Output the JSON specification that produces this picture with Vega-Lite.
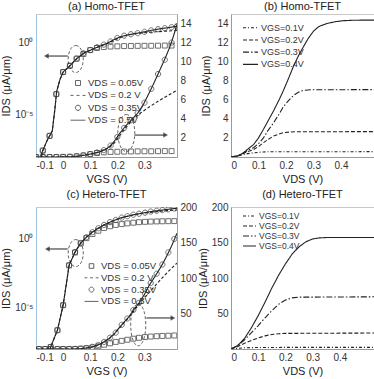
{
"$schema": "https://vega.github.io/schema/vega-lite/v6.json",
"padding": {"left": 0, "top": 0, "right": 0, "bottom": 0},
"config": {
  "font": "Liberation Sans",
  "view": {"stroke": "#c8c8c8", "strokeWidth": 1},
  "axis": {"labelFont": "Liberation Sans", "labelFontSize": 10, "labelColor": "#333", "titleFont": "Liberation Sans", "titleFontSize": 11, "titleColor": "#222", "titleFontWeight": "normal", "grid": false, "ticks": false, "domainColor": "#999", "labelPadding": 3, "titlePadding": 3},
  "title": {"font": "Liberation Sans", "fontSize": 11, "fontWeight": "normal", "color": "#222", "offset": 2},
  "legend": {"labelFont": "Liberation Sans", "labelColor": "#333", "padding": 0}
},
"datasets": {
  "a": [
    {"x": -0.1, "v": 1e-10, "s": "VDS = 0.5V", "m": "L"},
    {"x": -0.08, "v": 1e-8, "s": "VDS = 0.5V", "m": "L"},
    {"x": -0.077, "v": 2.3e-8, "s": "VDS = 0.5V", "m": "L"},
    {"x": -0.06, "v": 1.3e-7, "s": "VDS = 0.5V", "m": "L"},
    {"x": -0.04, "v": 6.6e-7, "s": "VDS = 0.5V", "m": "L"},
    {"x": -0.03, "v": 2.5e-5, "s": "VDS = 0.5V", "m": "L"},
    {"x": -0.024, "v": 3.7e-4, "s": "VDS = 0.5V", "m": "L"},
    {"x": -0.012, "v": 2.5e-3, "s": "VDS = 0.5V", "m": "L"},
    {"x": 0, "v": 8.7e-3, "s": "VDS = 0.5V", "m": "L"},
    {"x": 0.027, "v": 0.026, "s": "VDS = 0.5V", "m": "L"},
    {"x": 0.051, "v": 0.079, "s": "VDS = 0.5V", "m": "L"},
    {"x": 0.08, "v": 0.2, "s": "VDS = 0.5V", "m": "L"},
    {"x": 0.11, "v": 0.35, "s": "VDS = 0.5V", "m": "L"},
    {"x": 0.134, "v": 0.55, "s": "VDS = 0.5V", "m": "L"},
    {"x": 0.15, "v": 0.72, "s": "VDS = 0.5V", "m": "L"},
    {"x": 0.171, "v": 1.08, "s": "VDS = 0.5V", "m": "L"},
    {"x": 0.19, "v": 1.7, "s": "VDS = 0.5V", "m": "L"},
    {"x": 0.208, "v": 2.45, "s": "VDS = 0.5V", "m": "L"},
    {"x": 0.232, "v": 3.3, "s": "VDS = 0.5V", "m": "L"},
    {"x": 0.256, "v": 4.0, "s": "VDS = 0.5V", "m": "L"},
    {"x": 0.275, "v": 4.6, "s": "VDS = 0.5V", "m": "L"},
    {"x": 0.293, "v": 5.35, "s": "VDS = 0.5V", "m": "L"},
    {"x": 0.31, "v": 6.3, "s": "VDS = 0.5V", "m": "L"},
    {"x": 0.33, "v": 7.45, "s": "VDS = 0.5V", "m": "L"},
    {"x": 0.35, "v": 8.7, "s": "VDS = 0.5V", "m": "L"},
    {"x": 0.366, "v": 9.7, "s": "VDS = 0.5V", "m": "L"},
    {"x": 0.38, "v": 10.6, "s": "VDS = 0.5V", "m": "L"},
    {"x": 0.393, "v": 11.5, "s": "VDS = 0.5V", "m": "L"},
    {"x": 0.405, "v": 12.5, "s": "VDS = 0.5V", "m": "L"},
    {"x": 0.42, "v": 13.9, "s": "VDS = 0.5V", "m": "L"},
    {"x": -0.1, "v": 1e-10, "s": "VDS = 0.2 V", "m": "L"},
    {"x": -0.08, "v": 1e-8, "s": "VDS = 0.2 V", "m": "L"},
    {"x": -0.077, "v": 2.3e-8, "s": "VDS = 0.2 V", "m": "L"},
    {"x": -0.06, "v": 1.3e-7, "s": "VDS = 0.2 V", "m": "L"},
    {"x": -0.04, "v": 6.6e-7, "s": "VDS = 0.2 V", "m": "L"},
    {"x": -0.03, "v": 2.5e-5, "s": "VDS = 0.2 V", "m": "L"},
    {"x": -0.024, "v": 3.7e-4, "s": "VDS = 0.2 V", "m": "L"},
    {"x": -0.012, "v": 2.5e-3, "s": "VDS = 0.2 V", "m": "L"},
    {"x": 0, "v": 8.7e-3, "s": "VDS = 0.2 V", "m": "L"},
    {"x": 0.027, "v": 0.026, "s": "VDS = 0.2 V", "m": "L"},
    {"x": 0.051, "v": 0.079, "s": "VDS = 0.2 V", "m": "L"},
    {"x": 0.08, "v": 0.2, "s": "VDS = 0.2 V", "m": "L"},
    {"x": 0.11, "v": 0.35, "s": "VDS = 0.2 V", "m": "L"},
    {"x": 0.134, "v": 0.54, "s": "VDS = 0.2 V", "m": "L"},
    {"x": 0.15, "v": 0.7, "s": "VDS = 0.2 V", "m": "L"},
    {"x": 0.171, "v": 1.0, "s": "VDS = 0.2 V", "m": "L"},
    {"x": 0.19, "v": 1.5, "s": "VDS = 0.2 V", "m": "L"},
    {"x": 0.208, "v": 2.2, "s": "VDS = 0.2 V", "m": "L"},
    {"x": 0.232, "v": 3.1, "s": "VDS = 0.2 V", "m": "L"},
    {"x": 0.25, "v": 3.7, "s": "VDS = 0.2 V", "m": "L"},
    {"x": 0.28, "v": 4.5, "s": "VDS = 0.2 V", "m": "L"},
    {"x": 0.31, "v": 5.1, "s": "VDS = 0.2 V", "m": "L"},
    {"x": 0.342, "v": 5.7, "s": "VDS = 0.2 V", "m": "L"},
    {"x": 0.38, "v": 6.35, "s": "VDS = 0.2 V", "m": "L"},
    {"x": 0.42, "v": 7.0, "s": "VDS = 0.2 V", "m": "L"},
    {"x": -0.1, "v": 1e-11, "s": "VDS = 0.05V", "m": "P"},
    {"x": -0.075, "v": 2.8e-8, "s": "VDS = 0.05V", "m": "P"},
    {"x": -0.05, "v": 3e-7, "s": "VDS = 0.05V", "m": "P"},
    {"x": -0.025, "v": 2.5e-4, "s": "VDS = 0.05V", "m": "P"},
    {"x": 0, "v": 8.7e-3, "s": "VDS = 0.05V", "m": "P"},
    {"x": 0.025, "v": 0.024, "s": "VDS = 0.05V", "m": "P"},
    {"x": 0.05, "v": 0.075, "s": "VDS = 0.05V", "m": "P"},
    {"x": 0.075, "v": 0.16, "s": "VDS = 0.05V", "m": "P"},
    {"x": 0.1, "v": 0.3, "s": "VDS = 0.05V", "m": "P"},
    {"x": 0.125, "v": 0.42, "s": "VDS = 0.05V", "m": "P"},
    {"x": 0.15, "v": 0.49, "s": "VDS = 0.05V", "m": "P"},
    {"x": 0.175, "v": 0.53, "s": "VDS = 0.05V", "m": "P"},
    {"x": 0.2, "v": 0.55, "s": "VDS = 0.05V", "m": "P"},
    {"x": 0.225, "v": 0.57, "s": "VDS = 0.05V", "m": "P"},
    {"x": 0.25, "v": 0.58, "s": "VDS = 0.05V", "m": "P"},
    {"x": 0.275, "v": 0.59, "s": "VDS = 0.05V", "m": "P"},
    {"x": 0.3, "v": 0.6, "s": "VDS = 0.05V", "m": "P"},
    {"x": 0.325, "v": 0.6, "s": "VDS = 0.05V", "m": "P"},
    {"x": 0.35, "v": 0.61, "s": "VDS = 0.05V", "m": "P"},
    {"x": 0.375, "v": 0.62, "s": "VDS = 0.05V", "m": "P"},
    {"x": 0.4, "v": 0.62, "s": "VDS = 0.05V", "m": "P"},
    {"x": -0.1, "v": 1e-11, "s": "VDS = 0.35V", "m": "P"},
    {"x": -0.075, "v": 2.8e-8, "s": "VDS = 0.35V", "m": "P"},
    {"x": -0.05, "v": 3e-7, "s": "VDS = 0.35V", "m": "P"},
    {"x": -0.025, "v": 2.5e-4, "s": "VDS = 0.35V", "m": "P"},
    {"x": 0, "v": 8.7e-3, "s": "VDS = 0.35V", "m": "P"},
    {"x": 0.025, "v": 0.024, "s": "VDS = 0.35V", "m": "P"},
    {"x": 0.05, "v": 0.077, "s": "VDS = 0.35V", "m": "P"},
    {"x": 0.075, "v": 0.18, "s": "VDS = 0.35V", "m": "P"},
    {"x": 0.1, "v": 0.3, "s": "VDS = 0.35V", "m": "P"},
    {"x": 0.125, "v": 0.47, "s": "VDS = 0.35V", "m": "P"},
    {"x": 0.15, "v": 0.72, "s": "VDS = 0.35V", "m": "P"},
    {"x": 0.175, "v": 1.2, "s": "VDS = 0.35V", "m": "P"},
    {"x": 0.2, "v": 2.1, "s": "VDS = 0.35V", "m": "P"},
    {"x": 0.225, "v": 3.05, "s": "VDS = 0.35V", "m": "P"},
    {"x": 0.25, "v": 3.85, "s": "VDS = 0.35V", "m": "P"},
    {"x": 0.275, "v": 4.6, "s": "VDS = 0.35V", "m": "P"},
    {"x": 0.3, "v": 5.7, "s": "VDS = 0.35V", "m": "P"},
    {"x": 0.325, "v": 7.15, "s": "VDS = 0.35V", "m": "P"},
    {"x": 0.35, "v": 8.7, "s": "VDS = 0.35V", "m": "P"},
    {"x": 0.375, "v": 10.2, "s": "VDS = 0.35V", "m": "P"},
    {"x": 0.4, "v": 12.0, "s": "VDS = 0.35V", "m": "P"},
    {"x": 0.42, "v": 13.7, "s": "VDS = 0.35V", "m": "P"}
  ],
  "c": [
    {"x": -0.1, "v": 1e-10, "s": "VDS = 0.5V", "m": "L"},
    {"x": -0.048, "v": 1e-8, "s": "VDS = 0.5V", "m": "L"},
    {"x": -0.046, "v": 1.4e-8, "s": "VDS = 0.5V", "m": "L"},
    {"x": -0.021, "v": 2.3e-7, "s": "VDS = 0.5V", "m": "L"},
    {"x": 0, "v": 1.5e-5, "s": "VDS = 0.5V", "m": "L"},
    {"x": 0.011, "v": 4e-4, "s": "VDS = 0.5V", "m": "L"},
    {"x": 0.022, "v": 0.0117, "s": "VDS = 0.5V", "m": "L"},
    {"x": 0.044, "v": 0.107, "s": "VDS = 0.5V", "m": "L"},
    {"x": 0.065, "v": 0.49, "s": "VDS = 0.5V", "m": "L"},
    {"x": 0.086, "v": 1.3, "s": "VDS = 0.5V", "m": "L"},
    {"x": 0.108, "v": 3.0, "s": "VDS = 0.5V", "m": "L"},
    {"x": 0.133, "v": 6.3, "s": "VDS = 0.5V", "m": "L"},
    {"x": 0.15, "v": 10, "s": "VDS = 0.5V", "m": "L"},
    {"x": 0.17, "v": 15, "s": "VDS = 0.5V", "m": "L"},
    {"x": 0.19, "v": 22, "s": "VDS = 0.5V", "m": "L"},
    {"x": 0.207, "v": 30, "s": "VDS = 0.5V", "m": "L"},
    {"x": 0.225, "v": 38, "s": "VDS = 0.5V", "m": "L"},
    {"x": 0.244, "v": 46, "s": "VDS = 0.5V", "m": "L"},
    {"x": 0.26, "v": 55, "s": "VDS = 0.5V", "m": "L"},
    {"x": 0.28, "v": 65, "s": "VDS = 0.5V", "m": "L"},
    {"x": 0.3, "v": 77, "s": "VDS = 0.5V", "m": "L"},
    {"x": 0.318, "v": 90, "s": "VDS = 0.5V", "m": "L"},
    {"x": 0.335, "v": 100, "s": "VDS = 0.5V", "m": "L"},
    {"x": 0.355, "v": 112, "s": "VDS = 0.5V", "m": "L"},
    {"x": 0.37, "v": 122, "s": "VDS = 0.5V", "m": "L"},
    {"x": 0.386, "v": 134, "s": "VDS = 0.5V", "m": "L"},
    {"x": 0.4, "v": 145, "s": "VDS = 0.5V", "m": "L"},
    {"x": 0.42, "v": 163, "s": "VDS = 0.5V", "m": "L"},
    {"x": -0.1, "v": 1e-10, "s": "VDS = 0.2 V", "m": "L"},
    {"x": -0.048, "v": 1e-8, "s": "VDS = 0.2 V", "m": "L"},
    {"x": -0.046, "v": 1.4e-8, "s": "VDS = 0.2 V", "m": "L"},
    {"x": -0.021, "v": 2.3e-7, "s": "VDS = 0.2 V", "m": "L"},
    {"x": 0, "v": 1.5e-5, "s": "VDS = 0.2 V", "m": "L"},
    {"x": 0.011, "v": 4e-4, "s": "VDS = 0.2 V", "m": "L"},
    {"x": 0.022, "v": 0.0117, "s": "VDS = 0.2 V", "m": "L"},
    {"x": 0.044, "v": 0.107, "s": "VDS = 0.2 V", "m": "L"},
    {"x": 0.065, "v": 0.49, "s": "VDS = 0.2 V", "m": "L"},
    {"x": 0.086, "v": 1.3, "s": "VDS = 0.2 V", "m": "L"},
    {"x": 0.108, "v": 3.0, "s": "VDS = 0.2 V", "m": "L"},
    {"x": 0.133, "v": 6.2, "s": "VDS = 0.2 V", "m": "L"},
    {"x": 0.15, "v": 9.8, "s": "VDS = 0.2 V", "m": "L"},
    {"x": 0.17, "v": 14.5, "s": "VDS = 0.2 V", "m": "L"},
    {"x": 0.19, "v": 21.5, "s": "VDS = 0.2 V", "m": "L"},
    {"x": 0.207, "v": 29, "s": "VDS = 0.2 V", "m": "L"},
    {"x": 0.225, "v": 37, "s": "VDS = 0.2 V", "m": "L"},
    {"x": 0.244, "v": 45, "s": "VDS = 0.2 V", "m": "L"},
    {"x": 0.26, "v": 53, "s": "VDS = 0.2 V", "m": "L"},
    {"x": 0.28, "v": 63, "s": "VDS = 0.2 V", "m": "L"},
    {"x": 0.3, "v": 72, "s": "VDS = 0.2 V", "m": "L"},
    {"x": 0.33, "v": 85, "s": "VDS = 0.2 V", "m": "L"},
    {"x": 0.36, "v": 98, "s": "VDS = 0.2 V", "m": "L"},
    {"x": 0.39, "v": 110, "s": "VDS = 0.2 V", "m": "L"},
    {"x": 0.42, "v": 121, "s": "VDS = 0.2 V", "m": "L"},
    {"x": -0.089, "v": 1e-11, "s": "VDS = 0.05V", "m": "P"},
    {"x": -0.067, "v": 1e-9, "s": "VDS = 0.05V", "m": "P"},
    {"x": -0.046, "v": 1.4e-8, "s": "VDS = 0.05V", "m": "P"},
    {"x": -0.021, "v": 2.3e-7, "s": "VDS = 0.05V", "m": "P"},
    {"x": 0, "v": 1.5e-5, "s": "VDS = 0.05V", "m": "P"},
    {"x": 0.022, "v": 0.0117, "s": "VDS = 0.05V", "m": "P"},
    {"x": 0.044, "v": 0.1, "s": "VDS = 0.05V", "m": "P"},
    {"x": 0.065, "v": 0.45, "s": "VDS = 0.05V", "m": "P"},
    {"x": 0.086, "v": 1.1, "s": "VDS = 0.05V", "m": "P"},
    {"x": 0.108, "v": 2.2, "s": "VDS = 0.05V", "m": "P"},
    {"x": 0.13, "v": 3.8, "s": "VDS = 0.05V", "m": "P"},
    {"x": 0.151, "v": 6.0, "s": "VDS = 0.05V", "m": "P"},
    {"x": 0.173, "v": 8.0, "s": "VDS = 0.05V", "m": "P"},
    {"x": 0.194, "v": 10.0, "s": "VDS = 0.05V", "m": "P"},
    {"x": 0.216, "v": 11.5, "s": "VDS = 0.05V", "m": "P"},
    {"x": 0.237, "v": 13.0, "s": "VDS = 0.05V", "m": "P"},
    {"x": 0.259, "v": 14.5, "s": "VDS = 0.05V", "m": "P"},
    {"x": 0.28, "v": 15.8, "s": "VDS = 0.05V", "m": "P"},
    {"x": 0.302, "v": 16.8, "s": "VDS = 0.05V", "m": "P"},
    {"x": 0.323, "v": 17.5, "s": "VDS = 0.05V", "m": "P"},
    {"x": 0.345, "v": 18.0, "s": "VDS = 0.05V", "m": "P"},
    {"x": 0.366, "v": 18.4, "s": "VDS = 0.05V", "m": "P"},
    {"x": 0.388, "v": 18.7, "s": "VDS = 0.05V", "m": "P"},
    {"x": 0.41, "v": 19.0, "s": "VDS = 0.05V", "m": "P"},
    {"x": -0.089, "v": 1e-11, "s": "VDS = 0.35V", "m": "P"},
    {"x": -0.067, "v": 1e-9, "s": "VDS = 0.35V", "m": "P"},
    {"x": -0.046, "v": 1.4e-8, "s": "VDS = 0.35V", "m": "P"},
    {"x": -0.021, "v": 2.3e-7, "s": "VDS = 0.35V", "m": "P"},
    {"x": 0, "v": 1.5e-5, "s": "VDS = 0.35V", "m": "P"},
    {"x": 0.022, "v": 0.0117, "s": "VDS = 0.35V", "m": "P"},
    {"x": 0.044, "v": 0.107, "s": "VDS = 0.35V", "m": "P"},
    {"x": 0.065, "v": 0.49, "s": "VDS = 0.35V", "m": "P"},
    {"x": 0.086, "v": 1.3, "s": "VDS = 0.35V", "m": "P"},
    {"x": 0.108, "v": 3.0, "s": "VDS = 0.35V", "m": "P"},
    {"x": 0.13, "v": 5.8, "s": "VDS = 0.35V", "m": "P"},
    {"x": 0.151, "v": 10, "s": "VDS = 0.35V", "m": "P"},
    {"x": 0.173, "v": 16, "s": "VDS = 0.35V", "m": "P"},
    {"x": 0.194, "v": 23, "s": "VDS = 0.35V", "m": "P"},
    {"x": 0.216, "v": 34, "s": "VDS = 0.35V", "m": "P"},
    {"x": 0.237, "v": 43, "s": "VDS = 0.35V", "m": "P"},
    {"x": 0.259, "v": 55, "s": "VDS = 0.35V", "m": "P"},
    {"x": 0.28, "v": 65, "s": "VDS = 0.35V", "m": "P"},
    {"x": 0.302, "v": 78, "s": "VDS = 0.35V", "m": "P"},
    {"x": 0.323, "v": 93, "s": "VDS = 0.35V", "m": "P"},
    {"x": 0.345, "v": 106, "s": "VDS = 0.35V", "m": "P"},
    {"x": 0.366, "v": 119, "s": "VDS = 0.35V", "m": "P"},
    {"x": 0.388, "v": 136, "s": "VDS = 0.35V", "m": "P"},
    {"x": 0.41, "v": 155, "s": "VDS = 0.35V", "m": "P"}
  ],
  "b": [
    {"x": 0, "v": 0, "s": "VGS=0.4V"}, {"x": 0.025, "v": 0.12, "s": "VGS=0.4V"}, {"x": 0.045, "v": 0.43, "s": "VGS=0.4V"}, {"x": 0.06, "v": 0.8, "s": "VGS=0.4V"}, {"x": 0.082, "v": 1.3, "s": "VGS=0.4V"}, {"x": 0.1, "v": 2.0, "s": "VGS=0.4V"}, {"x": 0.118, "v": 2.9, "s": "VGS=0.4V"}, {"x": 0.135, "v": 3.8, "s": "VGS=0.4V"}, {"x": 0.155, "v": 4.86, "s": "VGS=0.4V"}, {"x": 0.175, "v": 6.0, "s": "VGS=0.4V"}, {"x": 0.191, "v": 7.0, "s": "VGS=0.4V"}, {"x": 0.21, "v": 8.3, "s": "VGS=0.4V"}, {"x": 0.227, "v": 9.5, "s": "VGS=0.4V"}, {"x": 0.245, "v": 10.6, "s": "VGS=0.4V"}, {"x": 0.264, "v": 11.6, "s": "VGS=0.4V"}, {"x": 0.28, "v": 12.4, "s": "VGS=0.4V"}, {"x": 0.3, "v": 13.2, "s": "VGS=0.4V"}, {"x": 0.32, "v": 13.7, "s": "VGS=0.4V"}, {"x": 0.349, "v": 14.0, "s": "VGS=0.4V"}, {"x": 0.38, "v": 14.2, "s": "VGS=0.4V"}, {"x": 0.41, "v": 14.3, "s": "VGS=0.4V"}, {"x": 0.45, "v": 14.35, "s": "VGS=0.4V"}, {"x": 0.52, "v": 14.36, "s": "VGS=0.4V"},
    {"x": 0, "v": 0, "s": "VGS=0.3V"}, {"x": 0.025, "v": 0.12, "s": "VGS=0.3V"}, {"x": 0.045, "v": 0.42, "s": "VGS=0.3V"}, {"x": 0.06, "v": 0.68, "s": "VGS=0.3V"}, {"x": 0.082, "v": 0.98, "s": "VGS=0.3V"}, {"x": 0.1, "v": 1.4, "s": "VGS=0.3V"}, {"x": 0.118, "v": 2.0, "s": "VGS=0.3V"}, {"x": 0.135, "v": 2.8, "s": "VGS=0.3V"}, {"x": 0.155, "v": 3.6, "s": "VGS=0.3V"}, {"x": 0.175, "v": 4.5, "s": "VGS=0.3V"}, {"x": 0.191, "v": 5.3, "s": "VGS=0.3V"}, {"x": 0.21, "v": 5.95, "s": "VGS=0.3V"}, {"x": 0.227, "v": 6.45, "s": "VGS=0.3V"}, {"x": 0.245, "v": 6.8, "s": "VGS=0.3V"}, {"x": 0.264, "v": 7.0, "s": "VGS=0.3V"}, {"x": 0.29, "v": 7.05, "s": "VGS=0.3V"}, {"x": 0.52, "v": 7.07, "s": "VGS=0.3V"},
    {"x": 0, "v": 0, "s": "VGS=0.2V"}, {"x": 0.025, "v": 0.12, "s": "VGS=0.2V"}, {"x": 0.045, "v": 0.38, "s": "VGS=0.2V"}, {"x": 0.06, "v": 0.55, "s": "VGS=0.2V"}, {"x": 0.082, "v": 0.78, "s": "VGS=0.2V"}, {"x": 0.1, "v": 1.1, "s": "VGS=0.2V"}, {"x": 0.118, "v": 1.5, "s": "VGS=0.2V"}, {"x": 0.135, "v": 1.85, "s": "VGS=0.2V"}, {"x": 0.155, "v": 2.2, "s": "VGS=0.2V"}, {"x": 0.175, "v": 2.42, "s": "VGS=0.2V"}, {"x": 0.191, "v": 2.55, "s": "VGS=0.2V"}, {"x": 0.215, "v": 2.62, "s": "VGS=0.2V"}, {"x": 0.24, "v": 2.65, "s": "VGS=0.2V"}, {"x": 0.52, "v": 2.66, "s": "VGS=0.2V"},
    {"x": 0, "v": 0, "s": "VGS=0.1V"}, {"x": 0.025, "v": 0.1, "s": "VGS=0.1V"}, {"x": 0.045, "v": 0.25, "s": "VGS=0.1V"}, {"x": 0.06, "v": 0.35, "s": "VGS=0.1V"}, {"x": 0.082, "v": 0.43, "s": "VGS=0.1V"}, {"x": 0.1, "v": 0.49, "s": "VGS=0.1V"}, {"x": 0.118, "v": 0.53, "s": "VGS=0.1V"}, {"x": 0.14, "v": 0.55, "s": "VGS=0.1V"}, {"x": 0.52, "v": 0.56, "s": "VGS=0.1V"}
  ],
  "d": [
    {"x": 0, "v": 0, "s": "VGS=0.4V"}, {"x": 0.025, "v": 5, "s": "VGS=0.4V"}, {"x": 0.05, "v": 15, "s": "VGS=0.4V"}, {"x": 0.075, "v": 30, "s": "VGS=0.4V"}, {"x": 0.1, "v": 47, "s": "VGS=0.4V"}, {"x": 0.125, "v": 66, "s": "VGS=0.4V"}, {"x": 0.15, "v": 86, "s": "VGS=0.4V"}, {"x": 0.175, "v": 104, "s": "VGS=0.4V"}, {"x": 0.2, "v": 120, "s": "VGS=0.4V"}, {"x": 0.225, "v": 134, "s": "VGS=0.4V"}, {"x": 0.25, "v": 144, "s": "VGS=0.4V"}, {"x": 0.275, "v": 151, "s": "VGS=0.4V"}, {"x": 0.3, "v": 155, "s": "VGS=0.4V"}, {"x": 0.325, "v": 156.5, "s": "VGS=0.4V"}, {"x": 0.35, "v": 157, "s": "VGS=0.4V"}, {"x": 0.525, "v": 157, "s": "VGS=0.4V"},
    {"x": 0, "v": 0, "s": "VGS=0.3V"}, {"x": 0.025, "v": 5, "s": "VGS=0.3V"}, {"x": 0.05, "v": 13, "s": "VGS=0.3V"}, {"x": 0.075, "v": 23, "s": "VGS=0.3V"}, {"x": 0.1, "v": 33, "s": "VGS=0.3V"}, {"x": 0.125, "v": 44, "s": "VGS=0.3V"}, {"x": 0.15, "v": 54, "s": "VGS=0.3V"}, {"x": 0.175, "v": 63, "s": "VGS=0.3V"}, {"x": 0.2, "v": 69, "s": "VGS=0.3V"}, {"x": 0.225, "v": 72, "s": "VGS=0.3V"}, {"x": 0.25, "v": 73, "s": "VGS=0.3V"}, {"x": 0.525, "v": 73.5, "s": "VGS=0.3V"},
    {"x": 0, "v": 0, "s": "VGS=0.2V"}, {"x": 0.025, "v": 3.5, "s": "VGS=0.2V"}, {"x": 0.05, "v": 8, "s": "VGS=0.2V"}, {"x": 0.075, "v": 12, "s": "VGS=0.2V"}, {"x": 0.1, "v": 15.5, "s": "VGS=0.2V"}, {"x": 0.125, "v": 18.5, "s": "VGS=0.2V"}, {"x": 0.15, "v": 20.5, "s": "VGS=0.2V"}, {"x": 0.175, "v": 21.5, "s": "VGS=0.2V"}, {"x": 0.2, "v": 22, "s": "VGS=0.2V"}, {"x": 0.525, "v": 22.5, "s": "VGS=0.2V"},
    {"x": 0, "v": 0, "s": "VGS=0.1V"}, {"x": 0.025, "v": 1, "s": "VGS=0.1V"}, {"x": 0.05, "v": 1.7, "s": "VGS=0.1V"}, {"x": 0.1, "v": 2.2, "s": "VGS=0.1V"}, {"x": 0.525, "v": 2.3, "s": "VGS=0.1V"}
  ]
},
"columns": 2,
"spacing": {"row": 50, "column": 54},
"bounds": "flush",
"resolve": {"scale": {"shape": "independent", "strokeDash": "independent"}, "legend": {"shape": "independent", "strokeDash": "independent"}},
"concat": [
  {
    "title": "(a) Homo-TFET",
    "width": 141, "height": 143,
    "data": {"name": "a"},
    "encoding": {
      "x": {"field": "x", "type": "quantitative", "scale": {"domain": [-0.1, 0.42], "nice": false}, "axis": {"values": [-0.1, 0, 0.1, 0.2, 0.3], "labelExpr": "datum.value < -0.05 ? '-0.1' : (datum.value == 0 ? '0' : format(datum.value, '.1f'))", "title": "VGS (V)"}}
    },
    "layer": [
      {"transform": [{"filter": "datum.m == 'L'"}], "mark": {"type": "line", "clip": true, "color": "#222", "strokeWidth": 1.1},
       "encoding": {
         "y": {"field": "v", "type": "quantitative", "scale": {"type": "log", "domain": [1e-8, 100], "nice": false}, "axis": {"orient": "left", "values": [1, 0.00001], "labelExpr": "datum.value > 0.5 ? '10⁰' : '10⁻⁵'", "title": "IDS (μA/μm)", "domainColor": "#9ec3e6"}},
         "strokeDash": {"field": "s", "type": "nominal", "scale": {"domain": ["VDS = 0.2 V", "VDS = 0.5V"], "range": [[3, 2], [1, 0]]}, "legend": null}}},
      {"transform": [{"filter": "datum.m == 'P'"}], "mark": {"type": "point", "clip": true, "color": "#333", "strokeWidth": 1, "filled": false, "size": 225},
       "encoding": {
         "y": {"field": "v", "type": "quantitative", "scale": {"type": "log", "domain": [1e-8, 100], "nice": false}, "axis": null},
         "shape": {"field": "s", "type": "nominal", "scale": {"domain": ["VDS = 0.05V", "VDS = 0.2 V", "VDS = 0.35V", "VDS = 0.5V"], "range": ["M-0.33,-0.33L0.33,-0.33L0.33,0.33L-0.33,0.33Z", "M-1,0L-0.6,0M-0.2,0L0.2,0M0.6,0L1,0", "M-0.35,0A0.35,0.35,0,1,0,0.35,0A0.35,0.35,0,1,0,-0.35,0Z", "M-1,0L1,0"]}, "legend": {"orient": "none", "legendX": 34, "legendY": 64, "title": null, "labelFontSize": 9.5, "symbolSize": 225, "clipHeight": 10, "rowPadding": 2.4, "labelOffset": 2, "symbolStrokeColor": "#222", "symbolStrokeWidth": 1, "symbolFillColor": "transparent"}}
       }},
      {"data": {"values": [{"x": 0.0465, "v": 0.071}]}, "mark": {"type": "point", "shape": "M0,-1A0.56,1,0,1,1,0,1A0.56,1,0,1,1,0,-1Z", "size": 729, "strokeDash": [3, 2], "color": "#222", "strokeWidth": 1, "filled": false},
       "encoding": {"y": {"field": "v", "type": "quantitative", "scale": {"type": "log", "domain": [1e-8, 100], "nice": false}, "axis": null}}},
      {"data": {"values": [{"x": 0.017, "x2": -0.062, "v": 0.115}]}, "mark": {"type": "rule", "color": "#222", "strokeWidth": 1},
       "encoding": {"x2": {"field": "x2"}, "y": {"field": "v", "type": "quantitative", "scale": {"type": "log", "domain": [1e-8, 100], "nice": false}, "axis": null}}},
      {"data": {"values": [{"x": -0.062, "v": 0.115}]}, "mark": {"type": "point", "shape": "triangle-left", "size": 30, "filled": true, "color": "#222"},
       "encoding": {"y": {"field": "v", "type": "quantitative", "scale": {"type": "log", "domain": [1e-8, 100], "nice": false}, "axis": null}}},
      {"transform": [{"filter": "datum.m == 'L'"}], "mark": {"type": "line", "clip": true, "color": "#222", "strokeWidth": 1.1},
       "encoding": {
         "y": {"field": "v", "type": "quantitative", "scale": {"domain": [0, 15], "nice": false}, "axis": {"orient": "right", "values": [2, 4, 6, 8, 10, 12, 14], "title": null, "domainColor": "#f08080"}},
         "strokeDash": {"field": "s", "type": "nominal", "scale": {"domain": ["VDS = 0.2 V", "VDS = 0.5V"], "range": [[3, 2], [1, 0]]}, "legend": null}}},
      {"transform": [{"filter": "datum.m == 'P'"}], "mark": {"type": "point", "clip": true, "color": "#333", "strokeWidth": 1, "filled": false, "size": 225},
       "encoding": {
         "y": {"field": "v", "type": "quantitative", "scale": {"domain": [0, 15], "nice": false}, "axis": null},
         "shape": {"field": "s", "type": "nominal", "scale": {"domain": ["VDS = 0.05V", "VDS = 0.2 V", "VDS = 0.35V", "VDS = 0.5V"], "range": ["M-0.33,-0.33L0.33,-0.33L0.33,0.33L-0.33,0.33Z", "M-1,0L-0.6,0M-0.2,0L0.2,0M0.6,0L1,0", "M-0.35,0A0.35,0.35,0,1,0,0.35,0A0.35,0.35,0,1,0,-0.35,0Z", "M-1,0L1,0"]}, "legend": {"orient": "none", "legendX": 34, "legendY": 64, "title": null, "labelFontSize": 9.5, "symbolSize": 225, "clipHeight": 10, "rowPadding": 2.4, "labelOffset": 2, "symbolStrokeColor": "#222", "symbolStrokeWidth": 1, "symbolFillColor": "transparent"}}
       }},
      {"data": {"values": [{"x": 0.233, "v": 2.52}]}, "mark": {"type": "point", "shape": "M0,-1A0.46,1,0,1,1,0,1A0.46,1,0,1,1,0,-1Z", "size": 1369, "strokeDash": [3, 2], "color": "#222", "strokeWidth": 1, "filled": false},
       "encoding": {"y": {"field": "v", "type": "quantitative", "scale": {"domain": [0, 15], "nice": false}, "axis": null}}},
      {"data": {"values": [{"x": 0.263, "x2": 0.378, "v": 2.3}]}, "mark": {"type": "rule", "color": "#222", "strokeWidth": 1},
       "encoding": {"x2": {"field": "x2"}, "y": {"field": "v", "type": "quantitative", "scale": {"domain": [0, 15], "nice": false}, "axis": null}}},
      {"data": {"values": [{"x": 0.378, "v": 2.3}]}, "mark": {"type": "point", "shape": "triangle-right", "size": 30, "filled": true, "color": "#222"},
       "encoding": {"y": {"field": "v", "type": "quantitative", "scale": {"domain": [0, 15], "nice": false}, "axis": null}}}
    ],
    "resolve": {"scale": {"y": "independent"}}
  },
  {
    "title": "(b) Homo-TFET",
    "width": 143, "height": 143,
    "data": {"name": "b"},
    "mark": {"type": "line", "color": "#222", "strokeWidth": 1.1, "clip": true},
    "encoding": {
      "x": {"field": "x", "type": "quantitative", "scale": {"domain": [0, 0.52], "nice": false}, "axis": {"values": [0, 0.1, 0.2, 0.3, 0.4], "labelExpr": "datum.value == 0 ? '0' : format(datum.value, '.1f')", "title": "VDS (V)"}},
      "y": {"field": "v", "type": "quantitative", "scale": {"domain": [0, 15], "nice": false}, "axis": {"values": [2, 4, 6, 8, 10, 12, 14], "title": "IDS (μA/μm)", "titlePadding": 5}},
      "strokeDash": {"field": "s", "type": "nominal", "scale": {"domain": ["VGS=0.1V", "VGS=0.2V", "VGS=0.3V", "VGS=0.4V"], "range": [[3, 2, 1, 2], [4, 2], [6, 2, 1.5, 2], [1, 0]]}, "legend": {"orient": "none", "legendX": 11, "legendY": 9, "title": null, "symbolSize": 225, "symbolStrokeWidth": 1.1, "symbolStrokeColor": "#222", "labelFontSize": 9, "clipHeight": 9.5, "rowPadding": 2.2, "labelOffset": 2}}
    }
  },
  {
    "title": "(c) Hetero-TFET",
    "width": 141, "height": 142,
    "data": {"name": "c"},
    "encoding": {
      "x": {"field": "x", "type": "quantitative", "scale": {"domain": [-0.1, 0.42], "nice": false}, "axis": {"values": [-0.1, 0, 0.1, 0.2, 0.3], "labelExpr": "datum.value < -0.05 ? '-0.1' : (datum.value == 0 ? '0' : format(datum.value, '.1f'))", "title": "VGS (V)"}}
    },
    "layer": [
      {"transform": [{"filter": "datum.m == 'L'"}], "mark": {"type": "line", "clip": true, "color": "#222", "strokeWidth": 1.1},
       "encoding": {
         "y": {"field": "v", "type": "quantitative", "scale": {"type": "log", "domain": [1e-8, 200], "nice": false}, "axis": {"orient": "left", "values": [1, 0.00001], "labelExpr": "datum.value > 0.5 ? '10⁰' : '10⁻⁵'", "title": "IDS (μA/μm)", "domainColor": "#9ec3e6"}},
         "strokeDash": {"field": "s", "type": "nominal", "scale": {"domain": ["VDS = 0.2 V", "VDS = 0.5V"], "range": [[3, 2], [1, 0]]}, "legend": null}}},
      {"transform": [{"filter": "datum.m == 'P'"}], "mark": {"type": "point", "clip": true, "color": "#333", "strokeWidth": 1, "filled": false, "size": 225},
       "encoding": {
         "y": {"field": "v", "type": "quantitative", "scale": {"type": "log", "domain": [1e-8, 200], "nice": false}, "axis": null},
         "shape": {"field": "s", "type": "nominal", "scale": {"domain": ["VDS = 0.05V", "VDS = 0.2 V", "VDS = 0.35V", "VDS = 0.5V"], "range": ["M-0.33,-0.33L0.33,-0.33L0.33,0.33L-0.33,0.33Z", "M-1,0L-0.6,0M-0.2,0L0.2,0M0.6,0L1,0", "M-0.35,0A0.35,0.35,0,1,0,0.35,0A0.35,0.35,0,1,0,-0.35,0Z", "M-1,0L1,0"]}, "legend": {"orient": "none", "legendX": 48, "legendY": 54, "title": null, "labelFontSize": 9.5, "symbolSize": 196, "clipHeight": 10, "rowPadding": 1.8, "labelOffset": 2, "symbolStrokeColor": "#222", "symbolStrokeWidth": 1, "symbolFillColor": "transparent"}}
       }},
      {"data": {"values": [{"x": 0.0465, "v": 0.091}]}, "mark": {"type": "point", "shape": "M0,-1A0.56,1,0,1,1,0,1A0.56,1,0,1,1,0,-1Z", "size": 729, "strokeDash": [3, 2], "color": "#222", "strokeWidth": 1, "filled": false},
       "encoding": {"y": {"field": "v", "type": "quantitative", "scale": {"type": "log", "domain": [1e-8, 200], "nice": false}, "axis": null}}},
      {"data": {"values": [{"x": 0.017, "x2": -0.058, "v": 0.18}]}, "mark": {"type": "rule", "color": "#222", "strokeWidth": 1},
       "encoding": {"x2": {"field": "x2"}, "y": {"field": "v", "type": "quantitative", "scale": {"type": "log", "domain": [1e-8, 200], "nice": false}, "axis": null}}},
      {"data": {"values": [{"x": -0.058, "v": 0.18}]}, "mark": {"type": "point", "shape": "triangle-left", "size": 30, "filled": true, "color": "#222"},
       "encoding": {"y": {"field": "v", "type": "quantitative", "scale": {"type": "log", "domain": [1e-8, 200], "nice": false}, "axis": null}}},
      {"transform": [{"filter": "datum.m == 'L'"}], "mark": {"type": "line", "clip": true, "color": "#222", "strokeWidth": 1.1},
       "encoding": {
         "y": {"field": "v", "type": "quantitative", "scale": {"domain": [0, 200], "nice": false}, "axis": {"orient": "right", "values": [50, 100, 150, 200], "title": null, "domainColor": "#f08080"}},
         "strokeDash": {"field": "s", "type": "nominal", "scale": {"domain": ["VDS = 0.2 V", "VDS = 0.5V"], "range": [[3, 2], [1, 0]]}, "legend": null}}},
      {"transform": [{"filter": "datum.m == 'P'"}], "mark": {"type": "point", "clip": true, "color": "#333", "strokeWidth": 1, "filled": false, "size": 225},
       "encoding": {
         "y": {"field": "v", "type": "quantitative", "scale": {"domain": [0, 200], "nice": false}, "axis": null},
         "shape": {"field": "s", "type": "nominal", "scale": {"domain": ["VDS = 0.05V", "VDS = 0.2 V", "VDS = 0.35V", "VDS = 0.5V"], "range": ["M-0.33,-0.33L0.33,-0.33L0.33,0.33L-0.33,0.33Z", "M-1,0L-0.6,0M-0.2,0L0.2,0M0.6,0L1,0", "M-0.35,0A0.35,0.35,0,1,0,0.35,0A0.35,0.35,0,1,0,-0.35,0Z", "M-1,0L1,0"]}, "legend": {"orient": "none", "legendX": 48, "legendY": 54, "title": null, "labelFontSize": 9.5, "symbolSize": 196, "clipHeight": 10, "rowPadding": 1.8, "labelOffset": 2, "symbolStrokeColor": "#222", "symbolStrokeWidth": 1, "symbolFillColor": "transparent"}}
       }},
      {"data": {"values": [{"x": 0.277, "v": 34}]}, "mark": {"type": "point", "shape": "M0,-1A0.36,1,0,1,1,0,1A0.36,1,0,1,1,0,-1Z", "size": 1764, "strokeDash": [3, 2], "color": "#222", "strokeWidth": 1, "filled": false},
       "encoding": {"y": {"field": "v", "type": "quantitative", "scale": {"domain": [0, 200], "nice": false}, "axis": null}}},
      {"data": {"values": [{"x": 0.307, "x2": 0.405, "v": 43.7}]}, "mark": {"type": "rule", "color": "#222", "strokeWidth": 1},
       "encoding": {"x2": {"field": "x2"}, "y": {"field": "v", "type": "quantitative", "scale": {"domain": [0, 200], "nice": false}, "axis": null}}},
      {"data": {"values": [{"x": 0.405, "v": 43.7}]}, "mark": {"type": "point", "shape": "triangle-right", "size": 30, "filled": true, "color": "#222"},
       "encoding": {"y": {"field": "v", "type": "quantitative", "scale": {"domain": [0, 200], "nice": false}, "axis": null}}}
    ],
    "resolve": {"scale": {"y": "independent"}}
  },
  {
    "title": "(d) Hetero-TFET",
    "width": 143, "height": 142,
    "data": {"name": "d"},
    "mark": {"type": "line", "color": "#222", "strokeWidth": 1.1, "clip": true},
    "encoding": {
      "x": {"field": "x", "type": "quantitative", "scale": {"domain": [0, 0.525], "nice": false}, "axis": {"values": [0, 0.1, 0.2, 0.3, 0.4], "labelExpr": "datum.value == 0 ? '0' : format(datum.value, '.1f')", "title": "VDS (V)"}},
      "y": {"field": "v", "type": "quantitative", "scale": {"domain": [0, 200], "nice": false}, "axis": {"values": [50, 100, 150, 200], "title": "IDS (μA/μm)", "titlePadding": 3}},
      "strokeDash": {"field": "s", "type": "nominal", "scale": {"domain": ["VGS=0.1V", "VGS=0.2V", "VGS=0.3V", "VGS=0.4V"], "range": [[3, 2, 1, 2], [4, 2], [6, 2, 1.5, 2], [1, 0]]}, "legend": {"orient": "none", "legendX": 11, "legendY": 5, "title": null, "symbolSize": 169, "symbolStrokeWidth": 1.1, "symbolStrokeColor": "#222", "labelFontSize": 8.5, "clipHeight": 8, "rowPadding": 1, "labelOffset": 2}}
    }
  }
]
}
